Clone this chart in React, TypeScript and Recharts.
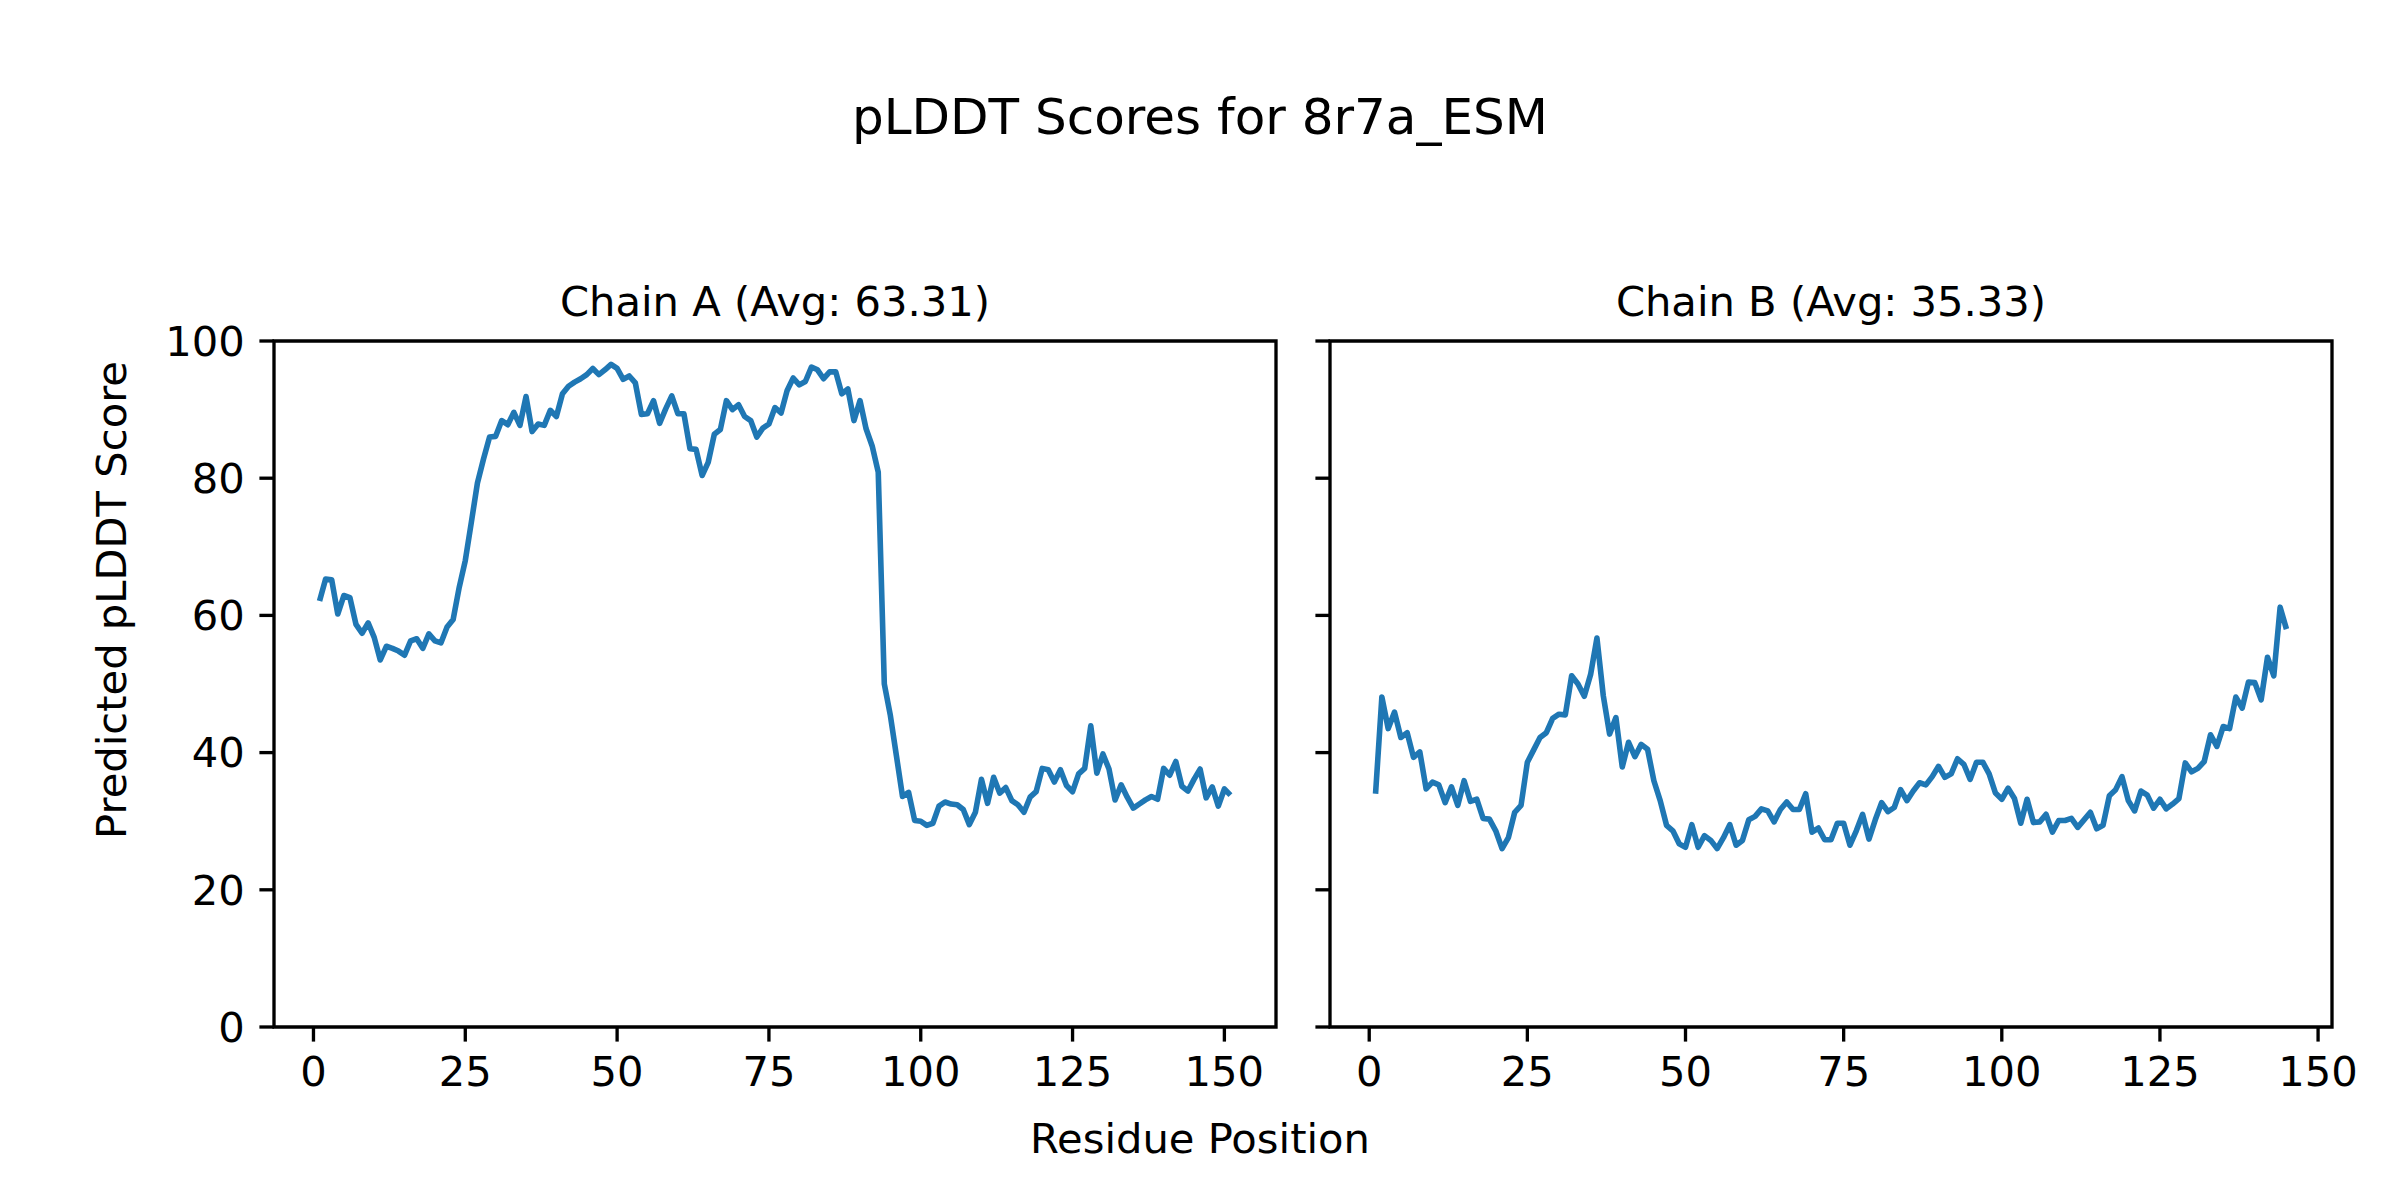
import React from 'react';
import { LineChart, Line, XAxis, YAxis, ReferenceArea } from 'recharts';

// ---- data ----
const scoresA = [
  62.1, 65.3, 65.2, 60.2, 62.9, 62.6, 58.7, 57.4, 58.9, 56.8,
  53.5, 55.5, 55.2, 54.8, 54.2, 56.3, 56.6, 55.2, 57.3, 56.3,
  56.0, 58.3, 59.4, 64.1, 68.0, 73.6, 79.3, 82.8, 86.0, 86.1,
  88.4, 87.8, 89.6, 87.7, 91.9, 86.8, 87.9, 87.7, 89.9, 89.0,
  92.3, 93.4, 94.0, 94.5, 95.1, 96.0, 95.1, 95.8, 96.6, 96.0,
  94.4, 94.9, 93.9, 89.3, 89.4, 91.3, 88.0, 90.1, 92.0, 89.4,
  89.4, 84.3, 84.2, 80.4, 82.3, 86.4, 87.1, 91.3, 90.0, 90.7,
  89.0, 88.4, 86.0, 87.3, 87.9, 90.3, 89.5, 92.8, 94.6, 93.6,
  94.1, 96.2, 95.8, 94.5, 95.5, 95.5, 92.3, 93.0, 88.4, 91.3,
  87.2, 84.7, 80.9, 50.0, 45.4, 39.5, 33.6, 34.2, 30.1, 30.0,
  29.4, 29.7, 32.2, 32.8, 32.5, 32.4, 31.7, 29.5, 31.3, 36.1,
  32.6, 36.4, 34.1, 34.9, 33.0, 32.4, 31.3, 33.5, 34.3, 37.7,
  37.5, 35.7, 37.5, 35.2, 34.3, 36.9, 37.7, 43.9, 37.0, 39.8,
  37.6, 33.1, 35.3, 33.5, 31.9, 32.5, 33.1, 33.6, 33.2, 37.7,
  36.7, 38.7, 35.1, 34.4, 36.1, 37.6, 33.4, 35.0, 32.2, 34.7,
  33.8,
];

const scoresB = [
  34.0, 48.1, 43.5, 45.9, 42.2, 42.9, 39.3, 40.1, 34.7, 35.7,
  35.3, 32.7, 35.0, 32.3, 35.9, 32.9, 33.2, 30.4, 30.3, 28.6,
  26.0, 27.6, 31.3, 32.3, 38.6, 40.4, 42.2, 42.9, 45.0, 45.6,
  45.5, 51.2, 50.0, 48.2, 51.4, 56.7, 48.3, 42.7, 45.1, 37.9,
  41.5, 39.4, 41.2, 40.5, 35.9, 33.0, 29.4, 28.6, 26.7, 26.2,
  29.5, 26.2, 27.9, 27.2, 26.0, 27.6, 29.5, 26.5, 27.2, 30.2,
  30.7, 31.8, 31.5, 29.9, 31.7, 32.8, 31.7, 31.7, 34.0, 28.4,
  29.0, 27.3, 27.3, 29.7, 29.7, 26.5, 28.6, 31.0, 27.4, 30.2,
  32.7, 31.4, 32.0, 34.6, 33.0, 34.4, 35.6, 35.3, 36.5, 38.0,
  36.4, 36.9, 39.1, 38.3, 36.1, 38.6, 38.6, 36.9, 34.1, 33.2,
  34.8, 33.3, 29.7, 33.2, 29.8, 29.9, 31.0, 28.4, 30.1, 30.1,
  30.4, 29.1, 30.2, 31.3, 28.9, 29.4, 33.7, 34.6, 36.5, 33.0,
  31.5, 34.4, 33.8, 31.9, 33.2, 31.8, 32.5, 33.3, 38.5, 37.2,
  37.7, 38.7, 42.6, 40.9, 43.8, 43.5, 48.1, 46.5, 50.3, 50.2,
  47.7, 53.9, 51.2, 61.2, 58.0,
];

const xTicks = [0, 25, 50, 75, 100, 125, 150];
const yTicks = [0, 20, 40, 60, 80, 100];
const xLimA: [number, number] = [-6.5, 158.5];
const xLimB: [number, number] = [-6.2, 152.2];
const yLim: [number, number] = [0, 100];

const suptitle = 'pLDDT Scores for 8r7a_ESM';
const titleA = 'Chain A (Avg: 63.31)';
const titleB = 'Chain B (Avg: 35.33)';
const xLabel = 'Residue Position';
const yLabel = 'Predicted pLDDT Score';

// ---- styles ----
const FONT = '"DejaVu Sans", sans-serif';
const FS = 41.67;
const LINE_COLOR = '#1f77b4';
const SPINE = 3.33;
const TICK_LEN = 14.6;
const TICK_PAD = 14.6;

const toRows = (scores: number[]) => scores.map((score, i) => ({ pos: i + 1, score }));

type PanelProps = {
  rows: { pos: number; score: number }[];
  xLim: [number, number];
  showYLabels: boolean;
  width: number;
  height: number;
  margin: { top: number; right: number; bottom: number; left: number };
  yAxisWidth: number;
};

function Panel({ rows, xLim, showYLabels, width, height, margin, yAxisWidth }: PanelProps) {
  const tickStyle = { fill: '#000', fontSize: FS, fontFamily: FONT };
  return (
    <LineChart width={width} height={height} data={rows} margin={margin}>
      <XAxis
        dataKey="pos"
        type="number"
        domain={xLim}
        ticks={xTicks}
        allowDataOverflow
        interval={0}
        height={60}
        axisLine={false}
        tickSize={TICK_LEN}
        tickMargin={TICK_PAD}
        tickLine={{ stroke: '#000', strokeWidth: SPINE }}
        tick={tickStyle}
      />
      <YAxis
        type="number"
        domain={yLim}
        ticks={yTicks}
        allowDataOverflow
        interval={0}
        width={yAxisWidth}
        axisLine={false}
        tickSize={TICK_LEN}
        tickMargin={TICK_PAD}
        tickLine={{ stroke: '#000', strokeWidth: SPINE }}
        tick={tickStyle}
        tickFormatter={showYLabels ? (v: number) => String(v) : () => ''}
      />
      <Line
        dataKey="score"
        type="linear"
        stroke={LINE_COLOR}
        strokeWidth={5.6}
        strokeLinejoin="round"
        dot={false}
        activeDot={false}
        isAnimationActive={false}
      />
      <ReferenceArea
        x1={xLim[0]}
        x2={xLim[1]}
        y1={yLim[0]}
        y2={yLim[1]}
        fill="none"
        fillOpacity={0}
        stroke="#000"
        strokeWidth={SPINE}
        ifOverflow="visible"
      />
    </LineChart>
  );
}

export default function App() {
  const rowsA = toRows(scoresA);
  const rowsB = toRows(scoresB);
  return (
    <div
      style={{
        position: 'fixed',
        left: 0,
        top: 0,
        width: 2400,
        height: 1200,
        background: '#fff',
        fontFamily: FONT,
        overflow: 'hidden',
      }}
    >
      <div style={{ position: 'absolute', left: 0, top: 299 }}>
        <Panel
          rows={rowsA}
          xLim={xLimA}
          showYLabels
          width={1300}
          height={800}
          margin={{ top: 42, right: 24, bottom: 12, left: 124 }}
          yAxisWidth={150}
        />
      </div>
      <div style={{ position: 'absolute', left: 1300, top: 299 }}>
        <Panel
          rows={rowsB}
          xLim={xLimB}
          showYLabels={false}
          width={1100}
          height={800}
          margin={{ top: 42, right: 68, bottom: 12, left: 10 }}
          yAxisWidth={20}
        />
      </div>
      <svg
        width={2400}
        height={1200}
        style={{ position: 'absolute', left: 0, top: 0, pointerEvents: 'none' }}
        fontFamily={FONT}
      >
        <text x={1200} y={134} fontSize={50} textAnchor="middle" fill="#000">
          {suptitle}
        </text>
        <text x={775} y={316} fontSize={FS} textAnchor="middle" fill="#000">
          {titleA}
        </text>
        <text x={1831} y={316} fontSize={FS} textAnchor="middle" fill="#000">
          {titleB}
        </text>
        <text x={1200} y={1153} fontSize={FS} textAnchor="middle" fill="#000">
          {xLabel}
        </text>
        <text
          x={126}
          y={600}
          fontSize={FS}
          textAnchor="middle"
          fill="#000"
          transform="rotate(-90 126 600)"
        >
          {yLabel}
        </text>
      </svg>
    </div>
  );
}
